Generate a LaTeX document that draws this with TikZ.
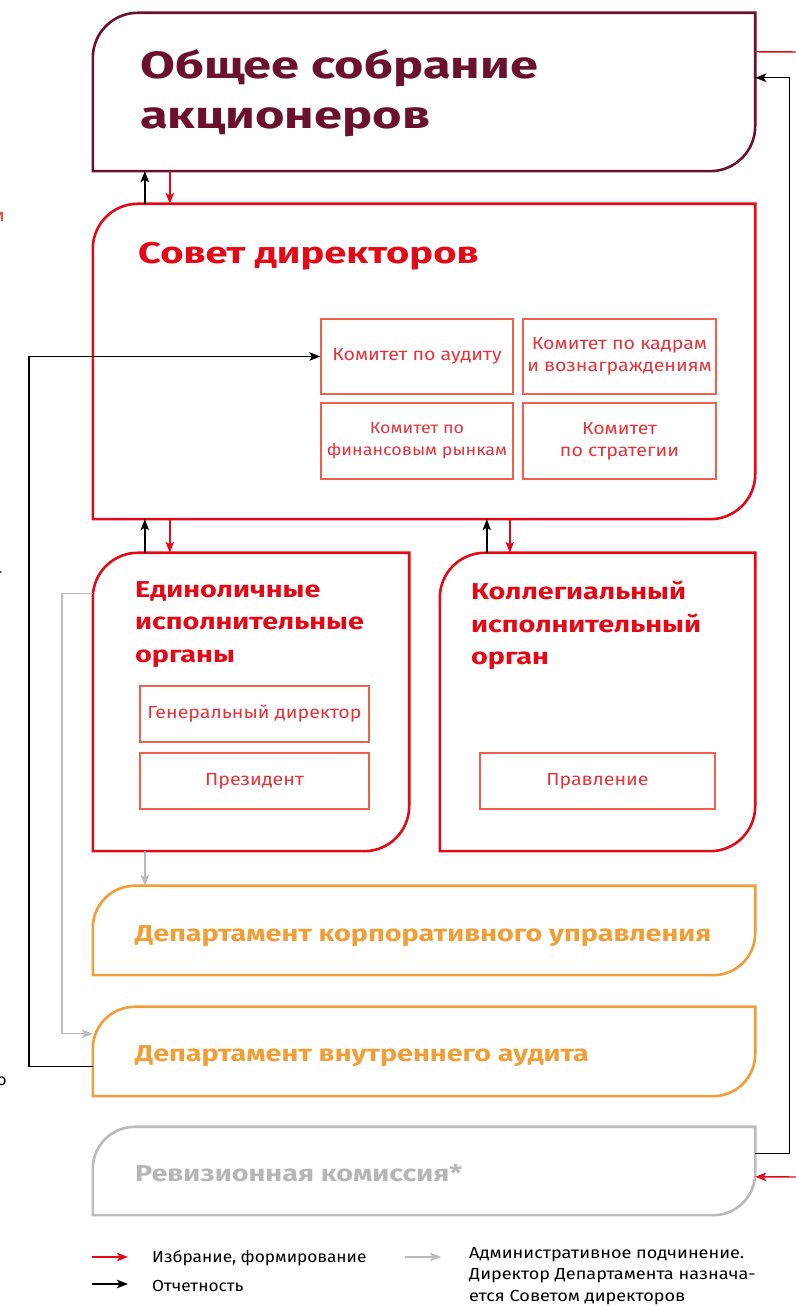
\documentclass[tikz,border=0pt]{standalone}
\usepackage{fontspec}
\setmainfont{Fira Sans}
\newfontfamily\ttlbig{Fira Sans}[FakeStretch=1.33]
\newfontfamily\ttlmid{Fira Sans}[FakeStretch=1.25]
\newfontfamily\bodyfnt{Fira Sans}[FakeStretch=1.12]
\newfontfamily\legfnt{Fira Sans}[FakeStretch=1.08]
\newfontfamily\legwide{Fira Sans}[FakeStretch=1.13]
\usetikzlibrary{arrows.meta,calc}
\definecolor{cMaroon}{HTML}{6B112E}
\definecolor{cRed}{HTML}{E30A17}
\definecolor{cSalmon}{HTML}{F0604D}
\definecolor{cText}{HTML}{E6333A}
\definecolor{cOrange}{HTML}{EF9E38}
\definecolor{cGray}{HTML}{BDBBBA}
\definecolor{cGrayText}{HTML}{B8B6B5}
\definecolor{cArrowGray}{HTML}{BDBBBA}
\newcommand{\roundframe}[3]{%
  \draw[#2, line width=2.6pt] (#1.south west) -- ([yshift=-#3]#1.north west)
    arc[start angle=180, end angle=90, radius=#3] -- (#1.north east)
    -- ([yshift=#3]#1.south east) arc[start angle=0, end angle=-90, radius=#3] -- cycle;}
\begin{document}
\begin{tikzpicture}[x=1pt,y=1pt,
  frame/.style={rectangle, draw=none, inner sep=0pt},
  sub/.style={rectangle, draw=cSalmon, line width=1.3pt, inner sep=0pt, text=cText,
    font=\bodyfnt\fontsize{17.5}{22}\selectfont, align=center},
  ttl/.style={inner sep=0pt, anchor=north west, align=left},
  dept/.style={inner sep=0pt, anchor=west, font=\ttlmid\bfseries\fontsize{23}{28}\selectfont},
  conn/.style={line width=1.4pt, -{Stealth[length=11pt,width=8.5pt,inset=2.5pt]}},
  elect/.style={conn, draw=cRed},
  report/.style={conn, draw=black},
  admin/.style={conn, draw=cArrowGray},
  legend/.style={inner sep=0pt, anchor=west, font=\legfnt\fontsize{16}{21.5}\selectfont, align=left}
]
\useasboundingbox (0,0) rectangle (795,1306);

% main frames
\node[frame, minimum width=662pt, minimum height=158pt] (gsa) at (424,1214) {};
\node[frame, minimum width=662pt, minimum height=315pt] (sd) at (424,944.5) {};
\node[frame, minimum width=316pt, minimum height=298pt] (eio) at (251,604) {};
\node[frame, minimum width=315pt, minimum height=298pt] (kio) at (597.5,604) {};
\node[frame, minimum width=662pt, minimum height=89pt] (dku) at (424,375.5) {};
\node[frame, minimum width=662pt, minimum height=89pt] (dva) at (424,254.5) {};
\node[frame, minimum width=662pt, minimum height=88pt] (rk) at (424,135) {};

\roundframe{gsa}{cMaroon}{45pt}
\roundframe{sd}{cRed}{45pt}
\roundframe{eio}{cRed}{45pt}
\roundframe{kio}{cRed}{45pt}
\roundframe{dku}{cOrange}{42pt}
\roundframe{dva}{cOrange}{42pt}
\roundframe{rk}{cGray}{42pt}

% titles
\node[ttl, text=cMaroon, font=\ttlbig\bfseries\fontsize{38}{50}\selectfont] (tgsa) at (140,1257) {Общее собрание\\акционеров};
\node[ttl, text=cRed, font=\ttlbig\bfseries\fontsize{30}{36}\selectfont] (tsd) at (138,1064) {Совет директоров};
\node[ttl, text=cRed, font=\ttlmid\bfseries\fontsize{23}{32.5}\selectfont] (teio) at (135,725) {Единоличные\\исполнительные\\органы};
\node[ttl, text=cRed, font=\ttlmid\bfseries\fontsize{23}{32.5}\selectfont] (tkio) at (471,725) {Коллегиальный\\исполнительный\\орган};
\node[dept, text=cOrange] (tdku) at (135,370) {Департамент корпоративного управления};
\node[dept, text=cOrange] (tdva) at (135,250) {Департамент внутреннего аудита};
\node[dept, text=cGrayText] (trk) at (135,133) {Ревизионная комиссия*};

% committees
\node[sub, minimum width=192pt, minimum height=75pt] (ka) at (417,949.5) {Комитет по аудиту};
\node[sub, minimum width=193pt, minimum height=75pt] (kk) at (619.5,949.5) {Комитет по кадрам\\и вознаграждениям};
\node[sub, minimum width=192pt, minimum height=76pt, font=\bodyfnt\fontsize{16}{22}\selectfont] (kf) at (417,865) {Комитет по\\финансовым рынкам};
\node[sub, minimum width=193pt, minimum height=76pt] (ks) at (619.5,865) {Комитет\\по стратегии};
\node[sub, minimum width=229pt, minimum height=56pt] (gd) at (254.5,592) {Генеральный директор};
\node[sub, minimum width=229pt, minimum height=56pt] (pr) at (254.5,525) {Президент};
\node[sub, minimum width=235pt, minimum height=56pt] (pl) at (597.5,525) {Правление};

% vertical connectors
\draw[report] ($(sd.north west)+(52,0)$) -- ($(gsa.south west)+(52,0)$);
\draw[elect] ($(gsa.south west)+(77,0)$) -- ($(sd.north west)+(77,0)$);
\draw[report] ($(eio.north west)+(52,0)$) -- ($(sd.south west)+(52,0)$);
\draw[elect] ($(sd.south west)+(77,0)$) -- ($(eio.north west)+(77,0)$);
\draw[report] ($(kio.north west)+(47,0)$) -- ($(sd.south west)+(394,0)$);
\draw[elect] ($(sd.south west)+(417,0)$) -- ($(kio.north west)+(70,0)$);
\draw[admin] ($(eio.south west)+(52,0)$) -- ($(dku.north west)+(52,0)$);

% left loops
\draw[admin] ($(eio.north west)+(0,-41)$) -- ++(-31,0) |- ($(dva.north west)+(0,-27)$);
\draw[report] ($(dva.north west)+(0,-60)$) -- ++(-64,0) |- (ka.west);

% right side
\draw[report] ($(rk.north east)+(0,-27)$) -- ++(34,0) |- ($(gsa.north east)+(0,-65)$);
\coordinate (rout) at (800,1254);
\draw[cRed, line width=1.4pt] ($(gsa.north east)+(0,-39)$) -- (rout);
\coordinate (rin) at (800,129);
\draw[elect] (rin) -- ($(rk.north east)+(0,-50)$);

% clipped fragments at left edge (as in the reference)
\node[inner sep=0pt, anchor=east, text=cText, font=\bodyfnt\fontsize{17.5}{20}\selectfont] (fr1) at (5,1089) {и};
\node[inner sep=0pt, anchor=east, font=\legfnt\fontsize{16}{20}\selectfont] (fr2) at (3,731) {-};
\node[inner sep=0pt, anchor=east, font=\legfnt\fontsize{16}{20}\selectfont] (fr3) at (7,225) {о};

% legend
\coordinate (l1a) at (92,49); \coordinate (l1b) at (128,49);
\coordinate (l2a) at (92,22); \coordinate (l2b) at (128,22);
\coordinate (l3a) at (405,49); \coordinate (l3b) at (441,49);
\draw[elect] (l1a) -- (l1b);
\draw[report] (l2a) -- (l2b);
\draw[admin] (l3a) -- (l3b);
\node[legend] (lt1) at (152,48) {Избрание, формирование};
\node[legend] (lt2) at (152,20) {Отчетность};
\node[legend, anchor=north west, font=\legwide\fontsize{16}{21.5}\selectfont] (lt3) at (469,59) {Административное подчинение.\\Директор Департамента назнача-\\ется Советом директоров};
\end{tikzpicture}
\end{document}
